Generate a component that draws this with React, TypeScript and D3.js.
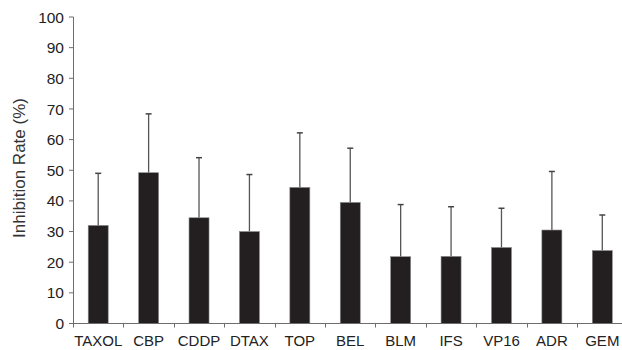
import React from 'react'
import * as d3 from 'd3'

const drugs = ['TAXOL', 'CBP', 'CDDP', 'DTAX', 'TOP', 'BEL', 'BLM', 'IFS', 'VP16', 'ADR', 'GEM']
const rates = [32.0, 49.2, 34.5, 30.0, 44.4, 39.5, 21.8, 21.9, 24.8, 30.5, 23.8]
const errTops = [49.0, 68.4, 54.1, 48.6, 62.2, 57.2, 38.8, 38.1, 37.6, 49.6, 35.4]
const yTicks = [0, 10, 20, 30, 40, 50, 60, 70, 80, 90, 100]

const W = 622
const H = 350
const axisColor = '#6d6d6d'
const barColor = '#231f20'

export default function App () {
  const x = d3.scaleBand<string>().domain(drugs).range([73, 627.5]).paddingInner(0).paddingOuter(0)
  const y = d3.scaleLinear().domain([0, 100]).range([323.5, 17])
  const barW = 20
  const capW = 6

  return (
    <svg width={W} height={H} style={{display: 'block', position: 'absolute', left: 0, top: 0, fontFamily: 'Liberation Sans, Arial, sans-serif'}}>
      <rect width={W} height={H} fill='#fff' />
      {/* y axis */}
      <line x1={73.5} x2={73.5} y1={y(100)} y2={y(0)} stroke={axisColor} strokeWidth={1} />
      {yTicks.map(t => (
        <g key={t}>
          <line x1={69} x2={73.5} y1={y(t)} y2={y(t)} stroke={axisColor} />
          <text x={64} y={y(t)} dy='0.36em' textAnchor='end' fontSize={15.5} fill='#222'>{t}</text>
        </g>
      ))}
      <text transform={`translate(25, 168) rotate(-90)`} textAnchor='middle' fontSize={17} fill='#333'>Inhibition Rate (%)</text>
      {/* bars + error bars */}
      {drugs.map((d, i) => {
        const cx = (x(d) as number) + x.bandwidth() / 2
        return (
          <g key={d}>
            <line x1={cx} x2={cx} y1={y(rates[i])} y2={y(errTops[i])} stroke='#555' strokeWidth={1.3} />
            <line x1={cx - capW / 2} x2={cx + capW / 2} y1={y(errTops[i])} y2={y(errTops[i])} stroke='#444' strokeWidth={1.5} />
            <rect x={cx - barW / 2} y={y(rates[i])} width={barW} height={y(0) - y(rates[i])} fill={barColor} stroke='#8a8a8a' strokeWidth={0.6} />
            <text x={cx} y={346} textAnchor='middle' fontSize={15} fill='#222'>{d}</text>
          </g>
        )
      })}
      {/* x axis */}
      <line x1={73} x2={W} y1={y(0)} y2={y(0)} stroke={axisColor} strokeWidth={1} />
      {drugs.map(d => (
        <line key={'t' + d} x1={Math.round(x(d) as number) + 0.5} x2={Math.round(x(d) as number) + 0.5} y1={y(0)} y2={y(0) + 4} stroke={axisColor} />
      ))}
      <line x1={Math.round(x.range()[1]) + 0.5} x2={Math.round(x.range()[1]) + 0.5} y1={y(0)} y2={y(0) + 4} stroke={axisColor} />
    </svg>
  )
}
